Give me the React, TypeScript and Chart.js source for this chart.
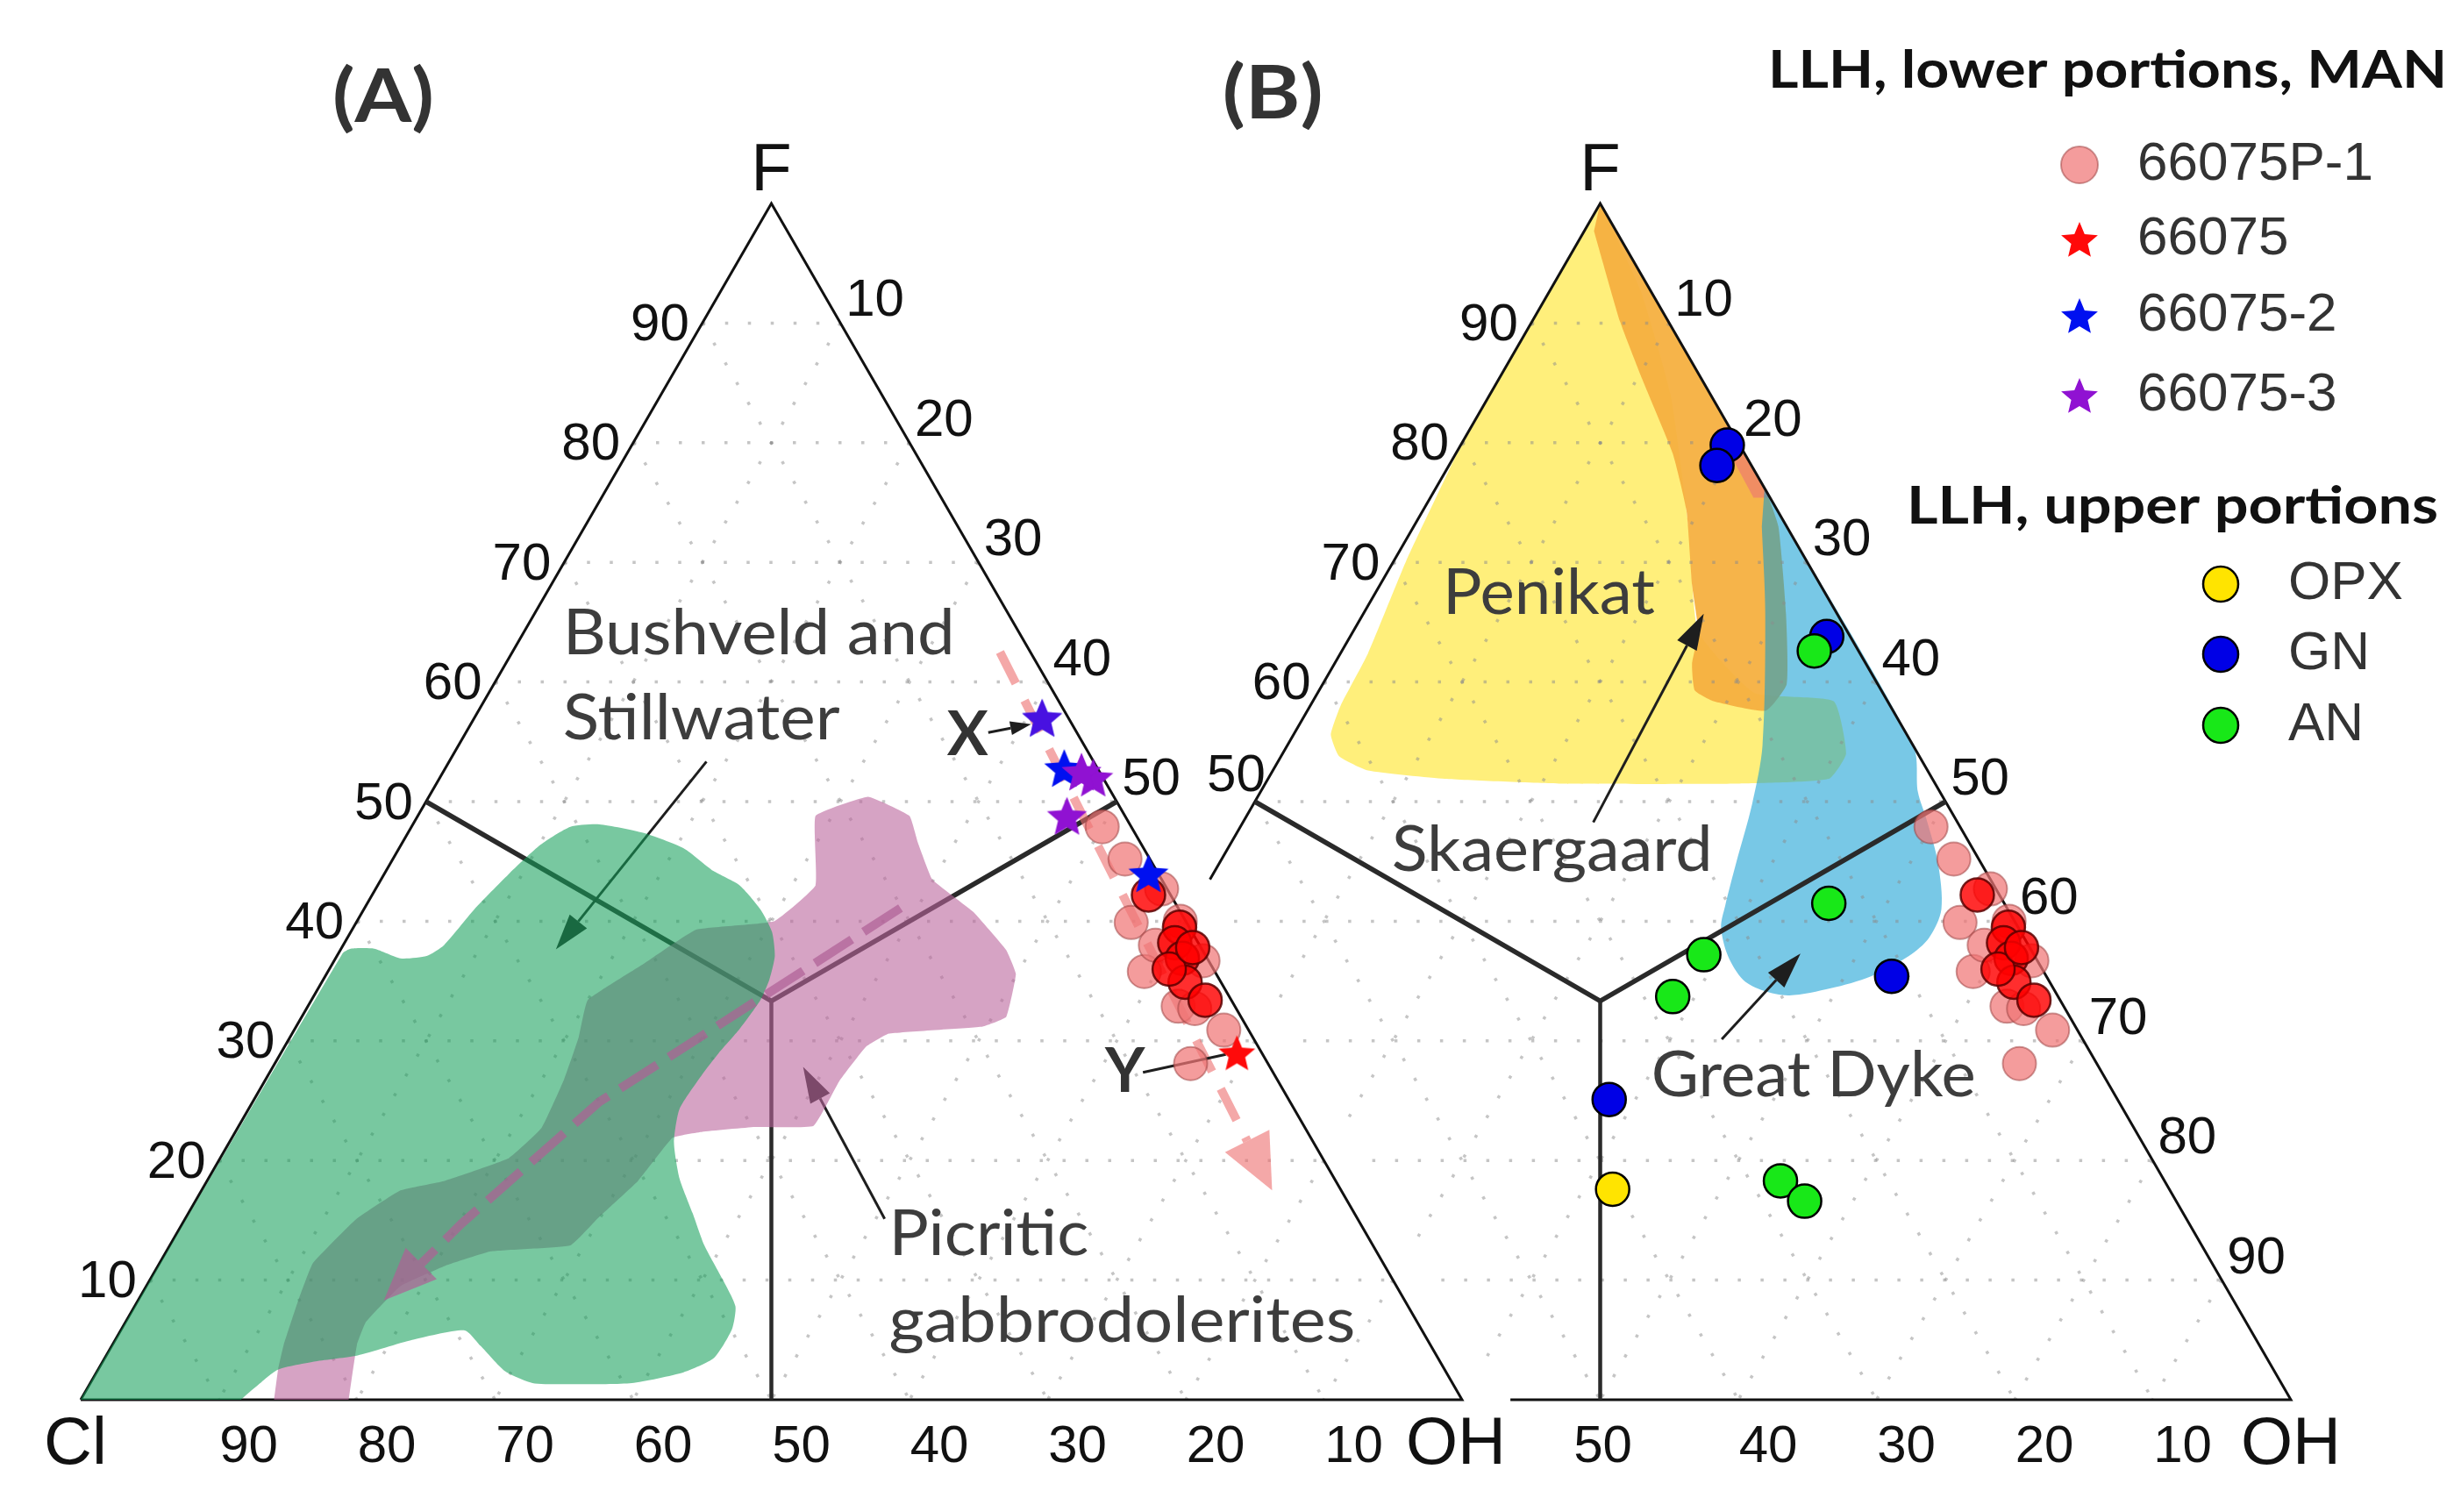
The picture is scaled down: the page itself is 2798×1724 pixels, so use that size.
import React, { useEffect, useRef } from 'react';
import { Chart, registerables } from 'chart.js';

Chart.register(...registerables);

const W = 2798;
const H = 1724;

// ================= DATA (ternary compositions, %) =================
const TICK_VALUES = [10, 20, 30, 40, 50, 60, 70, 80, 90];

// point series: [F, Cl, OH]
const S_66075P1 = [
  [47.9, 2.1, 50.0],
  [45.2, 1.8, 53.0],
  [42.7, 0.4, 56.9],
  [39.9, 4.0, 56.1],
  [40.0, 0.4, 59.6],
  [35.8, 5.1, 59.1],
  [36.7, 0.4, 62.9],
  [32.9, 4.1, 63.0],
  [30.9, 1.8, 67.3],
  [28.1, 5.6, 66.3],
  [38.0, 3.2, 58.8],
  [32.7, 3.0, 64.3],
];
const S_66075P1_DARK = [
  [42.2, 1.6, 56.2],
  [39.5, 0.7, 59.8],
  [38.2, 1.7, 60.1],
  [36.9, 1.8, 61.3],
  [34.9, 2.6, 62.5],
  [33.4, 1.9, 64.7],
  [36.0, 3.2, 60.8],
  [37.8, 0.6, 61.6],
];
const S_66075 = [[29.0, 1.8, 69.2]];
const S_66075_2 = [
  [57.0, 1.9, 41.1],
  [52.8, 2.4, 44.8],
  [44.0, 0.7, 55.3],
];
const S_66075_3 = [
  [57.0, 1.9, 41.1],
  [52.0, 0.7, 47.3],
  [52.5, 1.3, 46.2],
  [48.8, 4.2, 47.0],
];
const S_OPX = [[17.6, 40.3, 42.1]];
const S_GN = [
  [79.8, 0.9, 19.3],
  [78.1, 2.5, 19.4],
  [63.8, 1.7, 34.5],
  [35.4, 11.2, 53.4],
  [25.1, 36.8, 38.1],
];
const S_AN = [
  [62.6, 3.2, 34.2],
  [41.5, 12.7, 45.8],
  [37.2, 23.9, 38.9],
  [33.7, 27.9, 38.4],
  [18.3, 27.8, 53.9],
  [16.6, 26.9, 56.5],
];

// field outlines: [F, OH]
const R_BUSHVELD = [
  [0, 0], [37.3, 0.3], [37.7, 0.7], [37.7, 2.4], [36.9, 4.7], [37.1, 6.5], [38.0, 7.3], [41.0, 8.0],
  [43.9, 9.0], [46.4, 10.1], [47.9, 11.5], [48.1, 13.5], [47.4, 17.0], [46.1, 20.6], [44.2, 23.7],
  [43.0, 26.2], [41.0, 28.7], [39.1, 30.5], [37.1, 31.7], [35.1, 32.3], [33.4, 32.5], [31.0, 32.2],
  [29.0, 31.7], [27.2, 31.4], [24.3, 31.2], [21.5, 32.2], [18.5, 34.1], [15.6, 36.5], [12.9, 38.7],
  [10.0, 41.5], [7.8, 43.5], [5.9, 44.2], [3.5, 44.1], [2.3, 42.5], [1.4, 39.2], [1.3, 34.8],
  [1.4, 32.0], [2.4, 29.5], [4.5, 26.7], [5.8, 24.9], [5.0, 21.5], [3.7, 18.2], [3.2, 15.4],
  [2.5, 13.0], [1.0, 12.1], [0, 11.6],
];
const R_PICRITIC = [
  [0, 14.0], [2.6, 13.0], [4.6, 12.4], [8.3, 11.6], [11.4, 11.1], [15.1, 12.4], [17.5, 14.4],
  [18.3, 17.2], [20.2, 20.9], [22.7, 22.0], [26.8, 21.6], [30.3, 20.9], [33.4, 20.0], [36.4, 22.5],
  [39.3, 24.9], [40.0, 30.2], [43.0, 31.7], [48.8, 28.8], [50.4, 31.8], [48.8, 35.6], [46.6, 37.3],
  [43.5, 39.9], [40.8, 44.2], [37.6, 48.2], [35.6, 49.9], [32.0, 51.0], [31.2, 49.7], [30.6, 43.2],
  [29.5, 42.1], [26.6, 41.6], [22.9, 41.6], [22.8, 37.4], [22.4, 33.8], [21.9, 31.9], [18.3, 31.2],
  [15.3, 29.9], [12.9, 29.0], [12.4, 23.5], [11.2, 20.8], [9.5, 18.4], [6.5, 17.4], [4.6, 17.7],
  [0, 19.4],
];
const R_PENIKAT = [
  [100, 0], [92.8, 6.5], [84.0, 13.1], [73.0, 19.9], [64.2, 25.0], [59.1, 31.6], [58.4, 37.7],
  [54.0, 40.8], [51.9, 40.6], [51.5, 34.1], [51.5, 21.4], [51.9, 12.8], [52.6, 6.9], [53.8, 4.2],
  [55.6, 2.7], [58.0, 2.2], [62.4, 2.0], [70.1, 0.9], [78.9, 0.1],
];
const R_SKAERGAARD = [
  [100, 0], [76.2, 23.8], [73.0, 26.4], [65.7, 30.6], [59.8, 33.6], [57.6, 33.2], [58.4, 29.0],
  [59.3, 27.2], [61.5, 25.9], [64.2, 25.0], [68.1, 22.6], [74.3, 19.1], [79.1, 15.7], [85.3, 10.4],
  [90.1, 6.4], [97.7, 0.7],
];
const R_EDGE_SLIVER = [[81.4, 18.6], [75.4, 24.6], [75.4, 23.4], [81.1, 17.9]];
const R_GREAT_DYKE = [
  [76.2, 23.8], [54.7, 45.3], [50.8, 47.6], [48.6, 49.3], [44.9, 52.0], [41.0, 54.2], [38.6, 54.5],
  [37.1, 53.8], [35.4, 51.9], [34.4, 49.5], [33.8, 46.8], [34.2, 44.7], [35.1, 42.8], [37.1, 40.7],
  [39.5, 39.0], [41.3, 38.4], [44.9, 37.4], [49.8, 36.1], [54.7, 34.4], [65.7, 29.1], [73.0, 25.2],
];

// trend arrows: [F, OH], last point = arrow tip
const TREND_PURPLE = [[41.1, 38.8], [24.9, 25.1], [14.7, 20.2], [8.3, 17.8]];
const TREND_PINK = [[62.5, 35.3], [17.5, 77.5]];

// ================= LAYOUT =================
const SQ = Math.sqrt(3) / 2;
const B_SHIFT = 60; // panel B drawn 60 units to the right
const B_CL_MAX = 56.5; // panel B shows Cl <= 56.5
const PX_PER_UNIT = 15.75;
const X_MIN = -92 / PX_PER_UNIT;
const X_MAX = X_MIN + W / PX_PER_UNIT;
const Y_MAX = 1596 / PX_PER_UNIT;
const Y_MIN = Y_MAX - H / PX_PER_UNIT;

const toXY = (F: number, OH: number, shift = 0) => ({ x: shift + OH + F / 2, y: F * SQ });

// annotation arrows in plot units [x0, y0, x1(tip), y1(tip)]
const NOTE_ARROWS = [
  [45.3, 46.2, 34.4, 32.6],
  [58.2, 13.1, 52.3, 24.1],
  [109.5, 41.8, 117.5, 56.9],
  [118.8, 26.1, 124.5, 32.3],
];
const X_ARROW = [65.7, 48.3, 68.8, 48.9];
const Y_LINE = [76.9, 23.7, 82.9, 25.0];

const NOTES = [
  { text: 'Bushveld and', x: 34.9, y: 54.0, w: 447 },
  { text: 'Stillwater', x: 34.9, y: 47.8, w: 316 },
  { text: 'Picritic', x: 58.5, y: 10.5, w: 228 },
  { text: 'gabbrodolerites', x: 58.5, y: 4.2, w: 532 },
  { text: 'Penikat', x: 98.6, y: 56.9, w: 242 },
  { text: 'Skaergaard', x: 94.9, y: 38.3, w: 366 },
  { text: 'Great Dyke', x: 113.7, y: 22.0, w: 370 },
];

// colours
const C_PINK = 'rgba(240,118,118,0.72)';
const C_PINK_EDGE = 'rgba(160,70,70,0.55)';
const C_RED = 'rgba(255,0,0,0.82)';
const C_RED_EDGE = 'rgba(90,0,0,0.85)';
const C_BLUE = '#0010f0';
const C_PURPLE = '#9012d2';
const C_GN = '#0000e6';
const C_AN = '#18e818';
const C_OPX = '#ffe400';

function makeStar(fill: string, r: number): HTMLCanvasElement {
  const s = Math.ceil(r * 2 + 6);
  const c = document.createElement('canvas');
  c.width = s;
  c.height = s;
  const g = c.getContext('2d')!;
  g.translate(s / 2, s / 2 + r * 0.09);
  g.beginPath();
  for (let i = 0; i < 10; i++) {
    const rr = i % 2 === 0 ? r : r * 0.45;
    const a = -Math.PI / 2 + (i * Math.PI) / 5;
    if (i === 0) g.moveTo(Math.cos(a) * rr, Math.sin(a) * rr);
    else g.lineTo(Math.cos(a) * rr, Math.sin(a) * rr);
  }
  g.closePath();
  g.fillStyle = fill;
  g.fill();
  return c;
}

function txt(ctx: any, s: string, x: number, y: number, font: string, color: string, align: any, base: any, fitW?: number) {
  ctx.save();
  ctx.font = font;
  ctx.fillStyle = color;
  ctx.textBaseline = base;
  ctx.textAlign = align;
  if (fitW) {
    const w = ctx.measureText(s).width;
    ctx.translate(x, y);
    ctx.scale(fitW / w, 1);
    ctx.fillText(s, 0, 0);
  } else {
    ctx.fillText(s, x, y);
  }
  ctx.restore();
}

function headPts(tx: number, ty: number, fx: number, fy: number, len: number, hw: number) {
  const dx = tx - fx, dy = ty - fy;
  const L = Math.hypot(dx, dy);
  const ux = dx / L, uy = dy / L;
  const bx = tx - ux * len, by = ty - uy * len;
  return {
    base: { x: bx, y: by },
    tri: [{ x: tx, y: ty }, { x: bx - uy * hw, y: by + ux * hw }, { x: bx + uy * hw, y: by - ux * hw }],
  };
}

function poly(points: any[], color: string, tension = 0) {
  return {
    type: 'line', data: points, fill: 'shape', backgroundColor: color,
    borderColor: 'rgba(0,0,0,0)', borderWidth: 0, pointRadius: 0, tension,
  };
}
function seg(points: any[], color: string, width: number, dash: number[] = []) {
  return {
    type: 'line', data: points, fill: false, borderColor: color, borderWidth: width, borderDash: dash,
    pointRadius: 0, tension: 0, borderCapStyle: 'butt', borderJoinStyle: 'miter',
  };
}

function buildDatasets() {
  const layers: any[] = [];
  const region = (r: number[][], shift: number) => r.map((p) => toXY(p[0], p[1], shift));

  // Panel B fields
  layers.push({ label: 'Penikat', ...poly(region(R_PENIKAT, B_SHIFT), 'rgba(255,238,112,0.92)', 0.15) });
  layers.push({ label: 'Skaergaard', ...poly(region(R_SKAERGAARD, B_SHIFT), 'rgba(245,176,64,0.95)', 0.15) });
  layers.push({ label: 'edge', ...poly(region(R_EDGE_SLIVER, B_SHIFT), 'rgba(235,110,120,0.55)', 0) });
  layers.push({ label: 'Great Dyke', ...poly(region(R_GREAT_DYKE, B_SHIFT), 'rgba(10,155,210,0.55)', 0.3) });

  // dotted grid
  const GRID = 'rgba(140,140,140,0.5)';
  const GDASH = [3.5, 22.5];
  for (const t of TICK_VALUES) {
    layers.push(seg([toXY(t, 0), toXY(t, 100 - t)], GRID, 3.5, GDASH));
    layers.push(seg([toXY(100 - t, t), toXY(0, t)], GRID, 3.5, GDASH));
    layers.push(seg([toXY(100 - t, 0), toXY(0, 100 - t)], GRID, 3.5, GDASH));
    const clF = Math.min(100 - t, B_CL_MAX);
    layers.push(seg([toXY(t, 100 - t - clF, B_SHIFT), toXY(t, 100 - t, B_SHIFT)], GRID, 3.5, GDASH));
    const clO = Math.min(100 - t, B_CL_MAX);
    layers.push(seg([toXY(100 - t, t, B_SHIFT), toXY(100 - t - clO, t, B_SHIFT)], GRID, 3.5, GDASH));
    if (t <= B_CL_MAX) layers.push(seg([toXY(100 - t, 0, B_SHIFT), toXY(0, 100 - t, B_SHIFT)], GRID, 3.5, GDASH));
  }

  // frames
  layers.push(seg([toXY(0, 0), toXY(100, 0), toXY(0, 100), toXY(0, 0)], '#111', 3));
  layers.push(seg([toXY(100 - B_CL_MAX, 0, B_SHIFT), toXY(100, 0, B_SHIFT), toXY(0, 100, B_SHIFT), toXY(0, 100 - B_CL_MAX, B_SHIFT)], '#111', 3));
  // field boundaries
  for (const sh of [0, B_SHIFT]) {
    const c = toXY(100 / 3, 100 / 3, sh);
    layers.push(seg([toXY(50, 0, sh), c, toXY(50, 50, sh)], '#2a2a2a', 5.5));
    layers.push(seg([c, toXY(0, 50, sh)], '#2a2a2a', 4.5));
  }

  // annotation arrows
  for (const a of NOTE_ARROWS) {
    const h = headPts(a[2], a[3], a[0], a[1], 2.6, 0.8);
    layers.push(seg([{ x: a[0], y: a[1] }, h.base], '#1e1e1e', 3));
    layers.push(poly(h.tri, '#1e1e1e'));
  }

  // Panel A fields (translucent)
  layers.push({ label: 'Picritic gabbrodolerites', ...poly(region(R_PICRITIC, 0), 'rgba(187,102,157,0.6)', 0.1) });
  layers.push({ label: 'Bushveld and Stillwater', ...poly(region(R_BUSHVELD, 0), 'rgba(22,160,91,0.58)', 0.2) });

  // purple trend arrow
  {
    const pts = TREND_PURPLE.map((p) => toXY(p[0], p[1]));
    const tip = pts[pts.length - 1];
    const prev = pts[pts.length - 2];
    const h = headPts(tip.x, tip.y, prev.x, prev.y, 3.8, 1.6);
    layers.push(seg([...pts.slice(0, -1), h.base], 'rgba(175,95,150,0.7)', 10, [50, 16]));
    layers.push(poly(h.tri, 'rgba(175,95,150,0.7)'));
  }
  // pink trend arrow
  {
    const pts = TREND_PINK.map((p) => toXY(p[0], p[1]));
    const tip = pts[1];
    const h = headPts(tip.x, tip.y, pts[0].x, pts[0].y, 4.0, 1.8);
    layers.push(seg([pts[0], h.base], 'rgba(236,110,110,0.6)', 10, [40, 22]));
    layers.push(poly(h.tri, 'rgba(236,110,110,0.6)'));
  }
  // X / Y pointers
  {
    const h = headPts(X_ARROW[2], X_ARROW[3], X_ARROW[0], X_ARROW[1], 1.5, 0.5);
    layers.push(seg([{ x: X_ARROW[0], y: X_ARROW[1] }, h.base], '#1e1e1e', 3));
    layers.push(poly(h.tri, '#1e1e1e'));
    layers.push(seg([{ x: Y_LINE[0], y: Y_LINE[1] }, { x: Y_LINE[2], y: Y_LINE[3] }], '#1e1e1e', 3));
  }

  // points
  const pts = (s: number[][], shift: number) => s.map((p) => toXY(p[0], p[2], shift));
  const both = (s: number[][]) => [...pts(s, 0), ...pts(s, B_SHIFT)];
  const circle = (label: string, data: any[], bg: string, bd: string, bw: number) => ({
    type: 'scatter', label, data, pointStyle: 'circle', pointRadius: 19, backgroundColor: bg, borderColor: bd, borderWidth: bw,
  });
  layers.push(circle('66075P-1', both(S_66075P1), C_PINK, C_PINK_EDGE, 2));
  layers.push(circle('66075P-1 (dark)', both(S_66075P1_DARK), C_RED, C_RED_EDGE, 2.5));
  layers.push(circle('GN', pts(S_GN, B_SHIFT), C_GN, '#000', 2.5));
  layers.push(circle('AN', pts(S_AN, B_SHIFT), C_AN, '#000', 2.5));
  layers.push(circle('OPX', pts(S_OPX, B_SHIFT), C_OPX, '#000', 2.5));

  const starBlue = makeStar(C_BLUE, 24);
  const starPurple = makeStar(C_PURPLE, 24);
  const starPurpleT = makeStar('rgba(144,18,210,0.5)', 24);
  const starRed = makeStar('#ff0a0a', 22);
  layers.push({ type: 'scatter', label: '66075-2', data: pts(S_66075_2, 0), pointStyle: starBlue, pointRadius: 20 });
  layers.push({
    type: 'scatter', label: '66075-3', data: pts(S_66075_3, 0),
    pointStyle: S_66075_3.map((_, i) => (i === 0 ? starPurpleT : starPurple)), pointRadius: 20,
  });
  layers.push({ type: 'scatter', label: '66075', data: pts(S_66075, 0), pointStyle: starRed, pointRadius: 20 });

  const n = layers.length;
  return layers.map((d, i) => ({ ...d, order: n - i }));
}

const overlayPlugin = {
  id: 'overlay',
  afterDraw(chart: any) {
    const ctx = chart.ctx;
    const sx = chart.scales.x;
    const sy = chart.scales.y;
    const P = (x: number, y: number) => [sx.getPixelForValue(x), sy.getPixelForValue(y)];
    const T = (F: number, OH: number, sh: number) => {
      const q = toXY(F, OH, sh);
      return P(q.x, q.y);
    };
    const TF = "60px 'Liberation Sans', Arial, sans-serif";
    const VF = "76px 'Liberation Sans', Arial, sans-serif";
    const K = '#111';

    // ---- tick labels ----
    for (const sh of [0, B_SHIFT]) {
      for (const t of TICK_VALUES) {
        // left edge (F)
        if (sh === 0 || t > 50) {
          const [x, y] = T(t, 0, sh);
          txt(ctx, String(t), x - 15, y + 3, TF, K, 'right', 'middle');
        } else if (t === 50) {
          const [x, y] = T(t, 0, sh);
          txt(ctx, String(t), x + 12, y - 29, TF, K, 'right', 'middle');
        }
        // right edge (OH)
        if (sh === B_SHIFT || t <= 50) {
          const [x, y] = T(100 - t, t, sh);
          txt(ctx, String(t), x + 6, y - 8, TF, K, 'left', 'alphabetic');
        }
        // base (Cl)
        if (sh === 0 || t <= 50) {
          const [x, y] = T(0, 100 - t, sh);
          const dx = sh === B_SHIFT && t === 50 ? 3 : 34;
          txt(ctx, String(t), x + dx, y + 54, TF, K, 'center', 'middle');
        }
      }
      const [fx, fy] = T(100, 0, sh);
      txt(ctx, 'F', fx, fy - 15, VF, K, 'center', 'alphabetic');
      const [ox, oy] = T(0, 100, sh);
      txt(ctx, 'OH', ox - (sh === 0 ? 7 : 0), oy + 52, VF, K, 'center', 'middle');
    }
    const [cx, cy] = T(0, 0, 0);
    txt(ctx, 'Cl', cx - 6, cy + 52, VF, K, 'center', 'middle');

    // ---- panel titles ----
    {
      const [ax, ay] = P(21.9, 94.2);
      txt(ctx, '(A)', ax, ay, 'bold 84px Lato, sans-serif', '#333', 'center', 'middle', 116);
      const [bx, by] = P(86.3, 94.5);
      txt(ctx, '(B)', bx, by, 'bold 84px Lato, sans-serif', '#333', 'center', 'middle', 115);
    }

    // ---- annotations ----
    for (const n of NOTES) {
      const [x, y] = P(n.x, n.y);
      txt(ctx, n.text, x, y, '72px Lato, sans-serif', '#3d3d3d', 'left', 'alphabetic', n.w);
    }
    {
      const [x1, y1] = P(64.2, 48.1);
      txt(ctx, 'X', x1, y1, 'bold 70px Lato, sans-serif', '#333', 'center', 'middle');
      const [x2, y2] = P(75.6, 23.7);
      txt(ctx, 'Y', x2, y2, 'bold 70px Lato, sans-serif', '#333', 'center', 'middle');
    }

    // ---- legend ----
    const LF = "62px 'Liberation Sans', Arial, sans-serif";
    const LC = '#333';
    txt(ctx, 'LLH, lower portions, MAN', 2016, 100, 'bold 60px Lato, sans-serif', '#111', 'left', 'alphabetic', 774);
    const circ = (x: number, y: number, r: number, fill: string, stroke: string, lw: number) => {
      ctx.save();
      ctx.beginPath();
      ctx.arc(x, y, r, 0, Math.PI * 2);
      ctx.fillStyle = fill;
      ctx.fill();
      ctx.lineWidth = lw;
      ctx.strokeStyle = stroke;
      ctx.stroke();
      ctx.restore();
    };
    const star = (x: number, y: number, c: string) => {
      const s = makeStar(c, 22);
      ctx.drawImage(s, x - s.width / 2, y - s.height / 2);
    };
    const lowY = [188, 273, 360, 451];
    circ(2371, lowY[0], 21, C_PINK, C_PINK_EDGE, 2);
    star(2371, lowY[1], '#ff0a0a');
    star(2371, lowY[2], C_BLUE);
    star(2371, lowY[3], C_PURPLE);
    ['66075P-1', '66075', '66075-2', '66075-3'].forEach((s, i) => txt(ctx, s, 2437, lowY[i], LF, LC, 'left', 'middle'));

    txt(ctx, 'LLH, upper portions', 2174, 597, 'bold 60px Lato, sans-serif', '#111', 'left', 'alphabetic', 606);
    const upY = [666, 746, 827];
    circ(2532, upY[0], 20, C_OPX, '#000', 2.5);
    circ(2532, upY[1], 20, C_GN, '#000', 2.5);
    circ(2532, upY[2], 20, C_AN, '#000', 2.5);
    ['OPX', 'GN', 'AN'].forEach((s, i) => txt(ctx, s, 2609, upY[i], LF, LC, 'left', 'middle'));
  },
};

export default function App() {
  const ref = useRef<HTMLCanvasElement>(null);
  useEffect(() => {
    const canvas = ref.current;
    if (!canvas) return;
    const chart = new Chart(canvas, {
      type: 'scatter',
      data: { datasets: buildDatasets() as any },
      options: {
        animation: false,
        responsive: true,
        maintainAspectRatio: false,
        events: [],
        layout: { padding: 0, autoPadding: false },
        scales: {
          x: { type: 'linear', min: X_MIN, max: X_MAX, display: false },
          y: { type: 'linear', min: Y_MIN, max: Y_MAX, display: false },
        },
        plugins: {
          legend: { display: false },
          tooltip: { enabled: false },
          filler: { propagate: false, drawTime: 'beforeDatasetDraw' },
        },
      } as any,
      plugins: [overlayPlugin],
    });
    return () => chart.destroy();
  }, []);
  return (
    <div style={{ position: 'fixed', left: 0, top: 0, width: W, height: H, background: '#fff' }}>
      <canvas ref={ref} />
    </div>
  );
}
